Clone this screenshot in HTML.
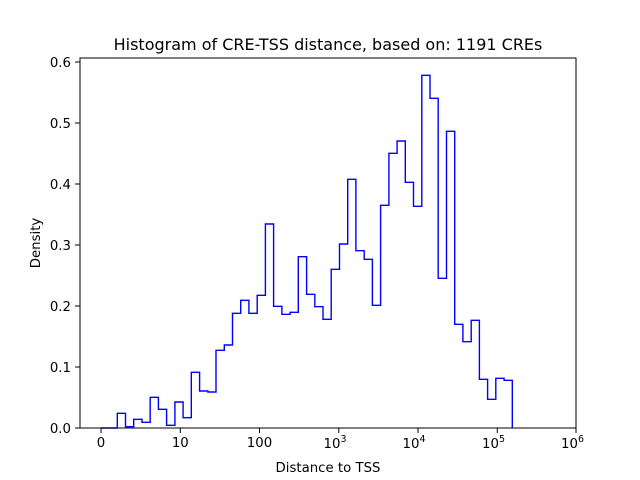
<!DOCTYPE html>
<html><head><meta charset="utf-8"><style>html,body{margin:0;padding:0;background:#fff}svg{display:block}text{font-family:"DejaVu Sans","Liberation Sans",sans-serif;fill:#000}</style></head>
<body>
<svg width="640" height="480" viewBox="0 0 640 480" xmlns="http://www.w3.org/2000/svg">
<rect width="640" height="480" fill="#fff"/>
<path d="M100.8,428 H117.3 V413.3 H125.5 V426.7 H133.7 V419.3 H142 V422.3 H150.2 V397.3 H158.4 V409.3 H166.6 V425.3 H174.9 V402 H183.1 V417.7 H191.3 V372.3 H199.6 V391 H207.8 V392 H216 V350.3 H224.3 V345 H232.5 V313.3 H240.7 V300.3 H248.9 V313.3 H257.2 V295.3 H265.4 V224 H273.6 V306.3 H281.9 V314.3 H290.1 V312.3 H298.3 V256.7 H306.6 V294.3 H314.8 V306.7 H323 V319.3 H331.2 V269.3 H339.5 V244 H347.7 V179.3 H355.9 V250.7 H364.2 V259.3 H372.4 V305.3 H380.6 V205.3 H388.9 V153.3 H397.1 V141 H405.3 V182.3 H413.5 V206.3 H421.8 V75.3 H430 V98.3 H438.2 V278.3 H446.5 V131.3 H454.7 V324.3 H462.9 V341.7 H471.2 V320.3 H479.4 V379.3 H487.6 V399.3 H495.8 V378.3 H504.1 V380.3 H512.3 V428" fill="none" stroke="#0000ff" stroke-width="1.4"/>
<rect x="80" y="58" width="496" height="370" fill="none" stroke="#000" stroke-width="1"/>
<g stroke="#000" stroke-width="1">
<line x1="101" y1="428" x2="101" y2="433"/><line x1="180.3" y1="428" x2="180.3" y2="433"/><line x1="259.5" y1="428" x2="259.5" y2="433"/><line x1="338.8" y1="428" x2="338.8" y2="433"/><line x1="418" y1="428" x2="418" y2="433"/><line x1="497.3" y1="428" x2="497.3" y2="433"/><line x1="576" y1="428" x2="576" y2="433"/>
<line x1="75" y1="428" x2="80" y2="428"/><line x1="75" y1="367" x2="80" y2="367"/><line x1="75" y1="306" x2="80" y2="306"/><line x1="75" y1="245" x2="80" y2="245"/><line x1="75" y1="184" x2="80" y2="184"/><line x1="75" y1="123" x2="80" y2="123"/><line x1="75" y1="62" x2="80" y2="62"/>
</g>
<g font-size="13.3" text-anchor="middle">
<text x="101" y="447">0</text><text x="180.3" y="447">10</text><text x="259.5" y="447">100</text>
<text x="335" y="448">10<tspan font-size="9.5" dy="-6">3</tspan></text>
<text x="414" y="448">10<tspan font-size="9.5" dy="-6">4</tspan></text>
<text x="493.5" y="448">10<tspan font-size="9.5" dy="-6">5</tspan></text>
<text x="572.5" y="448">10<tspan font-size="9.5" dy="-6">6</tspan></text>
</g>
<g font-size="13.3" text-anchor="end">
<text x="71" y="433">0.0</text><text x="71" y="372">0.1</text><text x="71" y="311">0.2</text><text x="71" y="250">0.3</text><text x="71" y="189">0.4</text><text x="71" y="128">0.5</text><text x="71" y="67">0.6</text>
</g>
<text x="328" y="472" font-size="13.3" text-anchor="middle">Distance to TSS</text>
<text x="40" y="243" font-size="13.3" text-anchor="middle" transform="rotate(-90 40 243)">Density</text>
<text x="328" y="50" font-size="16" text-anchor="middle">Histogram of CRE-TSS distance, based on: 1191 CREs</text>
</svg>
</body></html>
